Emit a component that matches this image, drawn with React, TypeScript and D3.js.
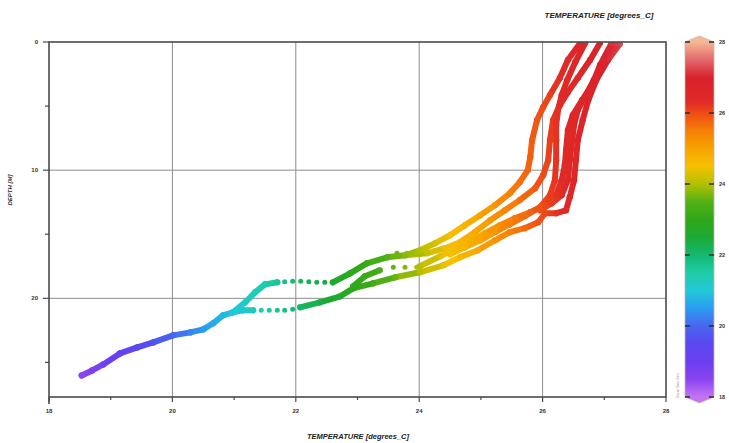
import * as d3 from "d3";

// axis ticks
const tempTicks = [18, 20, 22, 24, 26, 28];
const tempMinor = [19, 21, 23, 25, 27];
const depthTicks = [0, 10, 20];
const depthMinor = [5, 15, 25];
const barTicks = [18, 20, 22, 24, 26, 28];

// colour map of the temperature bar
const colorStops: [number, string][] = [
  [18.0, "#c474f2"],
  [18.5, "#8a44f0"],
  [19.0, "#6c3ef0"],
  [19.5, "#5a48f0"],
  [20.0, "#4866f0"],
  [20.5, "#2a9cf0"],
  [21.0, "#20c8d8"],
  [21.5, "#20cca8"],
  [22.0, "#14b870"],
  [22.5, "#1caa34"],
  [23.0, "#30a81a"],
  [23.5, "#54b016"],
  [24.0, "#b4c000"],
  [24.5, "#f6c000"],
  [25.0, "#f8a400"],
  [25.5, "#f67e08"],
  [26.0, "#ee4c16"],
  [26.3, "#e02a26"],
  [27.0, "#d8222c"],
  [27.5, "#e2686c"],
  [28.0, "#f4b894"],
];

// casts: [temperature, depth]
const cast1Top: [number, number][] = [
  [27.25, 0.16], [27.06, 1.41], [26.87, 2.97], [26.74, 4.53], [26.65, 6.09],
  [26.57, 7.66], [26.54, 9.22], [26.51, 10.78], [26.44, 12.11], [26.38, 13.13],
  [26.22, 13.36], [26.04, 13.36], [25.93, 14.06], [25.71, 14.53], [25.47, 14.84],
  [25.23, 15.47], [24.95, 16.25], [24.66, 16.8], [24.39, 17.42], [24.01, 17.97],
  [23.61, 18.36], [23.25, 18.83], [22.93, 19.22], [22.72, 19.84], [22.39, 20.31],
  [22.07, 20.7],
];
const cast1Deep: [number, number][] = [
  [21.31, 20.94], [21.14, 20.94], [20.98, 21.09], [20.82, 21.33], [20.66, 21.95],
  [20.5, 22.42], [20.29, 22.66], [20.01, 22.89], [19.69, 23.44], [19.43, 23.83],
  [19.15, 24.3], [18.88, 25.16], [18.7, 25.63], [18.53, 26.02],
];
const cast2Top: [number, number][] = [
  [26.93, 0.08], [26.77, 1.41], [26.57, 2.81], [26.41, 3.91], [26.28, 4.92],
  [26.17, 6.09], [26.12, 7.66], [26.09, 9.22], [26.01, 10.39], [25.88, 11.41],
  [25.63, 12.34], [25.39, 13.13], [25.15, 13.91], [24.9, 14.84], [24.66, 15.63],
  [24.42, 16.09], [24.13, 16.48], [23.77, 16.64], [23.48, 16.8], [23.15, 17.27],
  [22.88, 18.05], [22.6, 18.75],
];
const cast2Deep: [number, number][] = [
  [21.7, 18.75], [21.5, 18.91], [21.34, 19.53], [21.18, 20.31], [20.98, 21.09],
];
const cast3Top: [number, number][] = [
  [27.12, 0.08], [26.93, 1.8], [26.8, 3.36], [26.64, 4.53], [26.49, 5.7],
  [26.41, 6.88], [26.38, 8.44], [26.36, 9.61], [26.31, 10.78], [26.22, 11.95],
  [26.04, 12.73], [25.8, 13.28], [25.55, 13.75], [25.31, 14.3], [25.07, 14.92],
  [24.82, 15.55], [24.58, 16.17], [24.34, 16.72], [24.01, 17.5],
];
const cast3Deep: [number, number][] = [
  [23.36, 17.81], [23.12, 18.28], [22.93, 19.06],
];
const cast4: [number, number][] = [
  [26.69, 0.08], [26.53, 1.56], [26.4, 2.97], [26.31, 4.14], [26.25, 5.31],
  [26.22, 6.48], [26.22, 7.66], [26.22, 9.22], [26.2, 10.78], [26.12, 11.95],
  [25.96, 12.89], [25.71, 13.59], [25.47, 14.22], [25.23, 14.84], [24.99, 15.47],
  [24.74, 16.02], [24.5, 16.56],
];
const cast5: [number, number][] = [
  [26.61, 0.08], [26.41, 1.41], [26.28, 2.81], [26.12, 4.14], [26.01, 5.08],
  [25.91, 6.09], [25.83, 7.66], [25.8, 8.98], [25.76, 10.0], [25.63, 10.94],
  [25.47, 11.8], [25.23, 12.73], [24.99, 13.52], [24.74, 14.3], [24.5, 15.08],
  [24.26, 15.7], [24.01, 16.25], [23.77, 16.64],
];
const cast6: [number, number][] = [
  [27.19, 0.08], [27.0, 1.56], [26.83, 2.97], [26.7, 4.14], [26.57, 5.31],
  [26.51, 6.48], [26.48, 7.66], [26.44, 9.22], [26.41, 10.78], [26.31, 11.95],
  [26.15, 12.58], [25.96, 13.13],
];
// loose samples, drawn as single dots
const looseDots: [number, number][] = [
  [21.95, 20.86], [21.82, 20.94], [21.7, 20.94], [21.57, 20.94], [21.44, 20.94],
  [21.82, 18.7], [21.95, 18.67], [22.08, 18.67], [22.21, 18.7], [22.34, 18.75], [22.47, 18.75],
  [23.64, 16.48], [23.8, 16.48], [23.96, 16.48],
  [23.58, 17.58], [23.77, 17.58], [23.96, 17.58],
];

const casts = [cast1Deep, cast2Deep, cast1Top, cast3Deep, cast2Top, cast5, cast4, cast6, cast3Top];

const W = 729;
const H = 443;
const left = 49, right = 666, top = 42, bottom = 397;
const font = "'Liberation Sans', Arial, sans-serif";

export default function App() {
  const x = d3.scaleLinear().domain([18, 28]).range([left, right]);
  const y = d3.scaleLinear().domain([0, 27.7]).range([top, bottom]);
  const color = d3.scaleLinear<string>()
    .domain(colorStops.map(d => d[0]))
    .range(colorStops.map(d => d[1]))
    .interpolate(d3.interpolateRgb)
    .clamp(true);

  // colour bar
  const barX = 685, barW = 29;
  const cy = d3.scaleLinear().domain([18, 28]).range([bottom, top]);
  const barPath = `M${barX},${cy(28)} L${barX + barW / 2},${cy(28) - 6} L${barX + barW},${cy(28)}
    L${barX + barW},${cy(18)} L${barX + barW / 2},${cy(18) + 6} L${barX},${cy(18)} Z`;

  return (
    <svg width={W} height={H} style={{ position: "absolute", left: 0, top: 0, background: "#fff" }}>
      <defs>
        <linearGradient id="tbar" gradientUnits="userSpaceOnUse" x1={0} x2={0} y1={cy(18)} y2={cy(28)}>
          {colorStops.map(([t, c]) => (
            <stop key={t} offset={(t - 18) / 10} stopColor={c} />
          ))}
        </linearGradient>
        <clipPath id="plot">
          <rect x={left} y={top} width={right - left} height={bottom - top} />
        </clipPath>
      </defs>

      {/* grid */}
      <g stroke="#8c8c8c" strokeWidth={1}>
        {tempTicks.slice(1, -1).map(t => (
          <line key={t} x1={x(t)} x2={x(t)} y1={top} y2={bottom} />
        ))}
        {depthTicks.slice(1).map(d => (
          <line key={d} x1={left} x2={right} y1={y(d)} y2={y(d)} />
        ))}
      </g>

      {/* data */}
      <g clipPath="url(#plot)">
        {casts.map((cast, ci) => (
          <g key={ci}>
            {d3.pairs(cast).map(([a, b], i) => (
              <line key={i} x1={x(a[0])} y1={y(a[1])} x2={x(b[0])} y2={y(b[1])}
                stroke={color((a[0] + b[0]) / 2)} strokeWidth={6} strokeLinecap="round" />
            ))}
            {cast.map((p, i) => (
              <circle key={"c" + i} cx={x(p[0])} cy={y(p[1])} r={3.1} fill={color(p[0])} />
            ))}
          </g>
        ))}
        {looseDots.map((p, i) => (
          <circle key={i} cx={x(p[0])} cy={y(p[1])} r={2.5} fill={color(p[0])} />
        ))}
      </g>

      {/* frame */}
      <rect x={left} y={top} width={right - left} height={bottom - top} fill="none" stroke="#4a4a4a" strokeWidth={1.6} />
      <line x1={left} x2={left} y1={bottom} y2={bottom + 7} stroke="#4a4a4a" strokeWidth={1.6} />

      {/* x axis */}
      <g stroke="#4a4a4a" strokeWidth={1.2}>
        {tempTicks.map(t => <line key={t} x1={x(t)} x2={x(t)} y1={bottom} y2={bottom + 5} />)}
        {tempMinor.map(t => <line key={t} x1={x(t)} x2={x(t)} y1={bottom} y2={bottom + 3} />)}
      </g>
      <g fontFamily={font} fontSize={6} fontWeight="bold" fill="#333" textAnchor="middle">
        {tempTicks.map(t => <text key={t} x={x(t)} y={bottom + 16}>{t}</text>)}
      </g>

      {/* y axis */}
      <g stroke="#4a4a4a" strokeWidth={1.2}>
        {depthTicks.map(d => <line key={d} x1={left - 6} x2={left} y1={y(d)} y2={y(d)} />)}
        {depthMinor.map(d => <line key={d} x1={left - 4} x2={left} y1={y(d)} y2={y(d)} />)}
      </g>
      <g fontFamily={font} fontSize={6} fontWeight="bold" fill="#333" textAnchor="end">
        {depthTicks.map(d => <text key={d} x={left - 11} y={y(d) + 2}>{d}</text>)}
      </g>

      {/* titles */}
      <text x={358} y={439} textAnchor="middle" fontFamily={font} fontSize={7.5} fontWeight="bold" fontStyle="italic" fill="#222">
        TEMPERATURE [degrees_C]
      </text>
      <text x={599} y={18} textAnchor="middle" fontFamily={font} fontSize={8} fontWeight="bold" fontStyle="italic" fill="#222">
        TEMPERATURE [degrees_C]
      </text>
      <text transform="translate(12,190) rotate(-90)" textAnchor="middle" fontFamily={font} fontSize={6} fontWeight="bold" fontStyle="italic" fill="#333">
        DEPTH [M]
      </text>

      {/* colour bar */}
      <path d={barPath} fill="url(#tbar)" stroke="#c8b8a8" strokeWidth={0.8} />
      <g stroke="#333" strokeWidth={1.6}>
        {barTicks.map(t => (
          <g key={t}>
            <line x1={barX} x2={barX + 5} y1={cy(t)} y2={cy(t)} />
            <line x1={barX + barW - 5} x2={barX + barW} y1={cy(t)} y2={cy(t)} />
          </g>
        ))}
      </g>
      <g fontFamily={font} fontSize={5.5} fontWeight="bold" fill="#333">
        {barTicks.map(t => <text key={t} x={barX + barW + 5} y={cy(t) + 2}>{t}</text>)}
      </g>
      <text transform="translate(679,398) rotate(-90)" fontFamily={font} fontSize={3.2} fill="#888">
        Ocean Data View
      </text>
    </svg>
  );
}
